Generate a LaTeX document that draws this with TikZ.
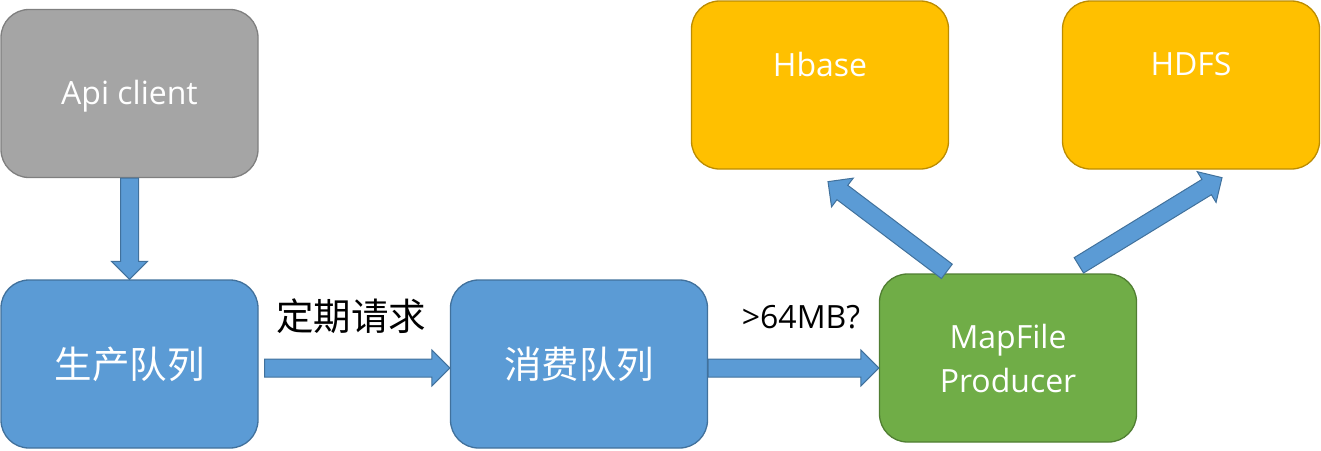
\documentclass[tikz,border=0pt]{standalone}
\usepackage{fontspec}
\setmainfont{Open Sans}
\newfontfamily\cjk{Noto Sans CJK SC}
\usetikzlibrary{calc}
\definecolor{grayfill}{HTML}{A5A5A5}
\definecolor{graydraw}{HTML}{7F7F7F}
\definecolor{bluefill}{HTML}{5B9BD5}
\definecolor{bluedraw}{HTML}{41719C}
\definecolor{greenfill}{HTML}{70AD47}
\definecolor{greendraw}{HTML}{507E32}
\definecolor{yellowfill}{HTML}{FFC000}
\definecolor{yellowdraw}{HTML}{BC8C00}
\tikzset{
  box/.style={rounded corners=28pt, minimum width=257pt, minimum height=168pt,
    line width=1.3pt, inner sep=0pt, text=white, align=center},
  latinfont/.style={font=\fontsize{32}{44}\selectfont},
  cjkfont/.style={font=\cjk\fontsize{37.5}{40}\selectfont},
  graybox/.style={box, fill=grayfill, draw=graydraw},
  bluebox/.style={box, fill=bluefill, draw=bluedraw},
  greenbox/.style={box, fill=greenfill, draw=greendraw},
  yellowbox/.style={box, fill=yellowfill, draw=yellowdraw},
  barrowstyle/.style={fill=bluefill, draw=bluedraw, line width=1pt, line join=miter},
  lbl/.style={text=black, inner sep=0pt}
}
\newcommand\barrow[2]{%
  \coordinate (ba-c) at ($(#2)!18pt!(#1)$);
  \draw[barrowstyle] ($(#1)!9pt!90:(#2)$) -- ($(ba-c)!9pt!-90:(#1)$) -- ($(ba-c)!18pt!-90:(#1)$)
    -- (#2) -- ($(ba-c)!18pt!90:(#1)$) -- ($(ba-c)!9pt!90:(#1)$) -- ($(#1)!9pt!-90:(#2)$) -- cycle;
}
\begin{document}
\begin{tikzpicture}[x=1pt, y=-1pt]
  \useasboundingbox (0,0) rectangle (1321,450);
  % boxes
  \node[graybox] (api) at (129.5,93.5) {};
  \node[latinfont, text=white, inner sep=0pt] (apiT) at ($(api)+(0,3)$) {Api client};
  \node[bluebox, cjkfont] (prod) at (129.5,364) {生产队列};
  \node[bluebox, cjkfont] (cons) at (579,364) {消费队列};
  \node[greenbox, latinfont] (map) at (1008,358) {MapFile\\Producer};
  \node[yellowbox] (hbase) at (820,85) {};
  \node[yellowbox] (hdfs) at (1191,85) {};
  \node[latinfont, text=white, inner sep=0pt] (hbaseT) at ($(hbase)+(0,-21)$) {Hbase};
  \node[latinfont, text=white, inner sep=0pt] (hdfsT) at ($(hdfs)+(0,-21)$) {HDFS};
  % labels
  \node[lbl, cjkfont] (l1) at (351,316) {定期请求};
  \node[lbl, latinfont] (l2) at (801,317) {>64MB?};
  % arrow end points
  \coordinate (t2) at ($(prod.east)+(6,4)$);
  \coordinate (h2) at ($(cons.west)+(0,4)$);
  \coordinate (t3) at ($(cons.east)+(0,4)$);
  \coordinate (h3) at (t3 -| map.west);
  \coordinate (t4) at ($(map.north west)+(68,-2)$);
  \coordinate (h4) at ($(hbase.south)+(8,12)$);
  \coordinate (t5) at ($(map.north west)+(200,-8)$);
  \coordinate (h5) at ($(hdfs.south)+(31,8)$);
  % arrows
  \barrow{api.south}{prod.north}
  \barrow{t2}{h2}
  \barrow{t3}{h3}
  \barrow{t4}{h4}
  \barrow{t5}{h5}
\end{tikzpicture}
\end{document}
